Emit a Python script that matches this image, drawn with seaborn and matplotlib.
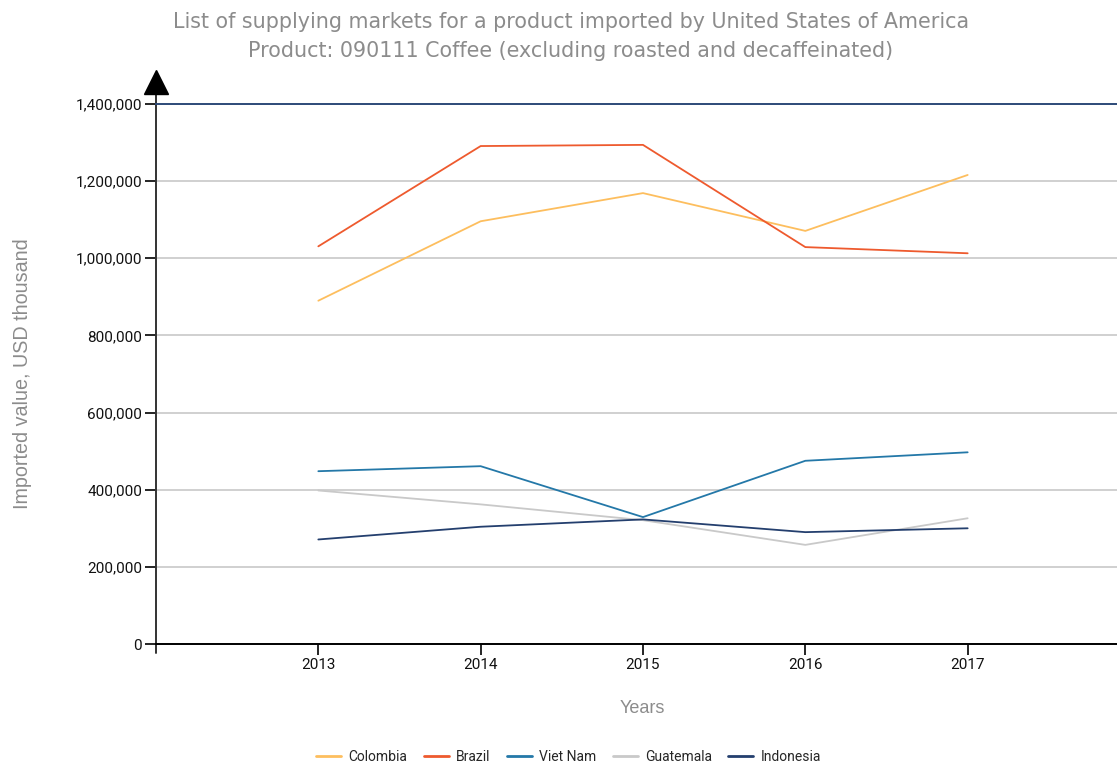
import numpy as np
import pandas as pd
import matplotlib
matplotlib.use("Agg")
import matplotlib.pyplot as plt
import seaborn as sns
from matplotlib.ticker import FuncFormatter

years = [2013, 2014, 2015, 2016, 2017]
countries = ["Colombia", "Brazil", "Viet Nam", "Guatemala", "Indonesia"]
colombia = [890000, 1096000, 1169000, 1071000, 1216000]
brazil = [1031000, 1291000, 1294000, 1029000, 1013000]
viet_nam = [448000, 461000, 329000, 475000, 497000]
guatemala = [398000, 362000, 321000, 257000, 326000]
indonesia = [271000, 304000, 323000, 290000, 300000]
colors = ["#FDBE5E", "#EE5A2E", "#2478A8", "#C9C9C9", "#243F6E"]

df = pd.DataFrame({
    "Years": years * 5,
    "value": colombia + brazil + viet_nam + guatemala + indonesia,
    "country": [c for c in countries for _ in years],
})

sns.set_style("white")
plt.rcParams["font.family"] = ["Roboto", "DejaVu Sans"]

fig = plt.figure(figsize=(11.17, 7.66), dpi=100)
ax = fig.add_axes([156 / 1117, 122 / 766, 1 - 156 / 1117, 540 / 766])

sns.lineplot(data=df, x="Years", y="value", hue="country", hue_order=countries,
             palette=dict(zip(countries, colors)), linewidth=1.3, ax=ax, legend=False)

ax.set_xlim(2012, 2017.92)
ax.set_ylim(0, 1400000)
ax.set_xticks(years)
ax.set_yticks(np.arange(0, 1400001, 200000))
ax.yaxis.set_major_formatter(FuncFormatter(lambda v, p: f"{int(v):,}"))
ax.grid(axis="y", color="#C8C8C8", linewidth=1.2)
ax.set_axisbelow(True)
ax.tick_params(axis="both", direction="out", length=8, width=1.2, color="black",
               labelsize=11, labelcolor="#111111", left=True, bottom=True)
ax.tick_params(axis="y", pad=2)
ax.tick_params(axis="x", pad=2)

ax.spines["right"].set_visible(False)
ax.spines["top"].set_color("#2D4A78")
ax.spines["top"].set_linewidth(1.4)
ax.spines["bottom"].set_color("black")
ax.spines["bottom"].set_linewidth(1.4)
ax.spines["left"].set_visible(False)

# y axis with arrow head
ax.plot([0, 0], [-0.016, 1.03], transform=ax.transAxes, color="#333333",
        linewidth=1.4, clip_on=False)
ax.plot([0], [1.04], marker="^", markersize=17, color="black",
        transform=ax.transAxes, clip_on=False)

ax.set_xlabel("Years", fontsize=13, color="#8C8C8C", family="Liberation Sans")
ax.xaxis.set_label_coords(0.5057, -0.104)
ax.set_ylabel("Imported value, USD thousand", fontsize=14.2, color="#8C8C8C",
              family="Liberation Sans")
ax.yaxis.set_label_coords(-0.129, 0.5)

fig.text(0.511, 0.971, "List of supplying markets for a product imported by United States of America",
         ha="center", va="center", fontsize=14.9, color="#8C8C8C", family="DejaVu Sans")
fig.text(0.511, 0.934, "Product: 090111 Coffee (excluding roasted and decaffeinated)",
         ha="center", va="center", fontsize=14.9, color="#8C8C8C", family="DejaVu Sans")

handles = [plt.Line2D([], [], color=c, linewidth=2) for c in colors]
fig.legend(handles, countries, loc="center", bbox_to_anchor=(0.509, 0.012), ncol=5,
           frameon=False, fontsize=10, handlelength=1.8, columnspacing=1.2,
           handletextpad=0.5)

fig.savefig("out.png", dpi=100)
